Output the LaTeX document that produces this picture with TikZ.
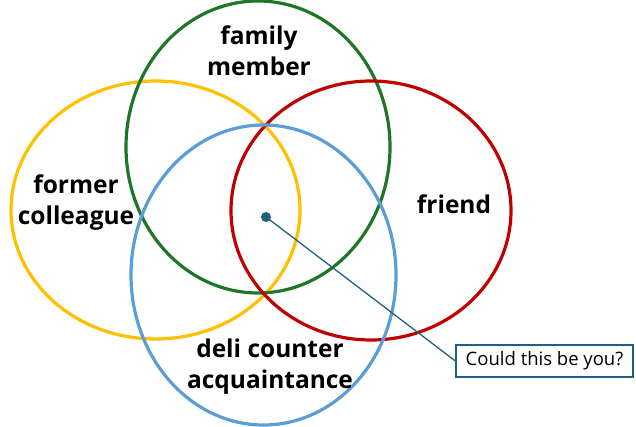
\documentclass[tikz,border=0pt]{standalone}
\usepackage{fontspec}
\setmainfont{Open Sans}
\definecolor{cgreen}{RGB}{30,118,38}
\definecolor{cyellow}{RGB}{255,192,0}
\definecolor{cred}{RGB}{192,0,0}
\definecolor{cblue}{RGB}{91,157,213}
\definecolor{cteal}{RGB}{31,96,128}
\tikzset{
  ring/.style={line width=3.2pt},
  lbl/.style={font=\fontsize{24.5}{31}\selectfont\bfseries, align=center, inner sep=0pt},
  callout/.style={draw=cteal, line width=1.3pt, font=\fontsize{18.5}{22}\selectfont, inner xsep=7pt, minimum height=32pt, minimum width=177pt},
  pin/.style={circle, fill=cteal, inner sep=0pt, minimum size=10pt},
}
\begin{document}
\begin{tikzpicture}[x=1pt,y=-1pt]
\useasboundingbox (0,0) rectangle (636,427);
\draw[ring, cyellow] (155.5,210) ellipse [x radius=144.5pt, y radius=129pt];
\draw[ring, cgreen] (258,147) ellipse [x radius=132pt, y radius=146pt];
\draw[ring, cred] (371,210.5) ellipse [x radius=140pt, y radius=129.5pt];
\draw[ring, cblue] (263.5,275) ellipse [x radius=132.5pt, y radius=150pt];
\node[lbl] (fam) at (259,51) {family\\member};
\node[lbl] (col) at (76,203) {former\\colleague};
\node[lbl] (fri) at (454,204) {friend};
\node[lbl] (deli) at (270,367) {deli counter\\acquaintance};
\node[pin] (dot) at (266,217) {};
\node[callout] (you) at (544.5,361) {Could this be you?};
\draw[cteal, line width=1.3pt] (dot.center) -- (you.west);
\end{tikzpicture}
\end{document}
